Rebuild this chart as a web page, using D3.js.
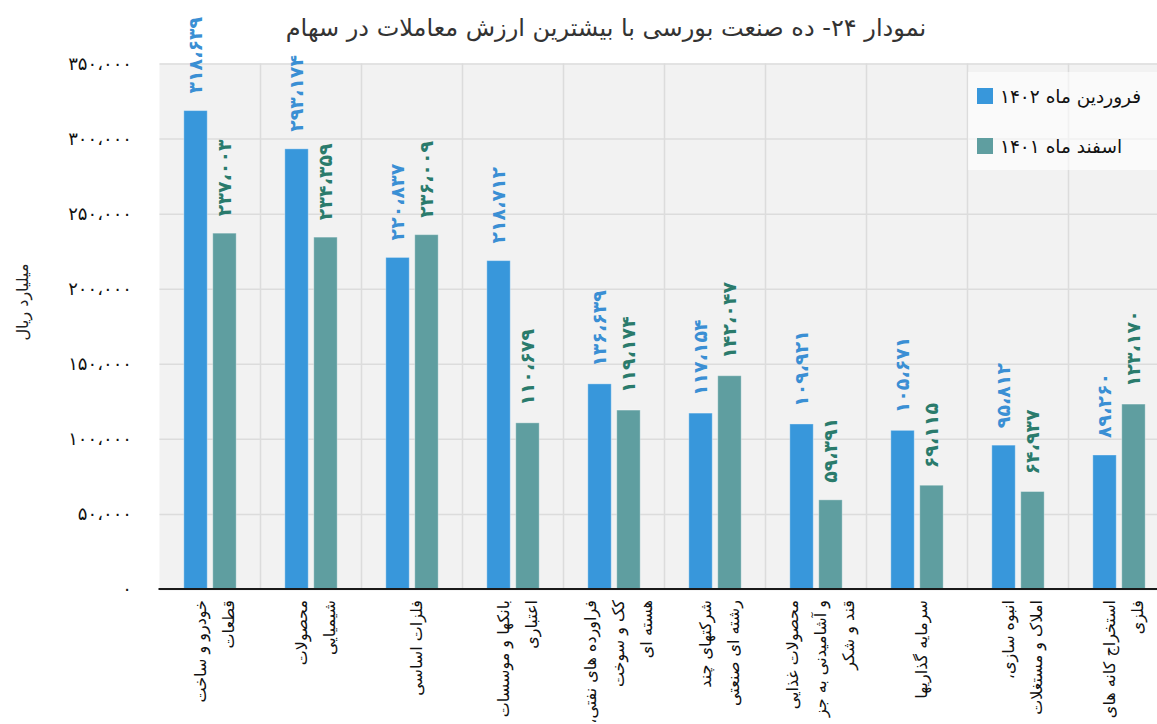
<!DOCTYPE html>
<html>
<head>
<meta charset="utf-8">
<script src="https://cdn.jsdelivr.net/npm/d3@7"></script>
<style>
  body { margin: 0; background: #fff; overflow: hidden; }
  svg { display: block; font-family: "DejaVu Sans", sans-serif; }
</style>
</head>
<body>
<svg id="chart" width="1157" height="724"></svg>
<script>
// data
var chartTitle = "نمودار ۲۴- ده صنعت بورسی با بیشترین ارزش معاملات در سهام";
var yTitle = "میلیارد ریال";
var seriesNames = ["فروردین ماه ۱۴۰۲", "اسفند ماه ۱۴۰۱"];
var categories = [
  ["خودرو و ساخت", "قطعات"],
  ["محصولات", "شیمیایی"],
  ["فلزات اساسی"],
  ["بانکها و موسسات", "اعتباری"],
  ["فراورده های نفتی،", "کک و سوخت", "هسته ای"],
  ["شرکتهای چند", "رشته ای صنعتی"],
  ["محصولات غذایی", "و آشامیدنی به جز", "قند و شکر"],
  ["سرمایه گذاریها"],
  ["انبوه سازی،", "املاک و مستغلات"],
  ["استخراج کانه های", "فلزی"]
];
var farvardin1402 = [318639, 293174, 220837, 218712, 136639, 117154, 109921, 105671, 95812, 89260];
var esfand1401 = [237003, 234359, 236009, 110679, 119174, 142047, 59391, 69115, 64937, 123170];
var yTicks = [0, 50000, 100000, 150000, 200000, 250000, 300000, 350000];

var barColors = ["#3897db", "#5f9ea0"];
var labelColors = ["#3a8fd4", "#2a7b6c"];

var fa = d3.formatLocale({
  decimal: "٫", thousands: "،", grouping: [3], currency: ["", ""],
  numerals: ["۰", "۱", "۲", "۳", "۴", "۵", "۶", "۷", "۸", "۹"]
});
var fmt = fa.format(",d");

var svg = d3.select("#chart"),
    plotLeft = 159.5, plotTop = 63.5, plotBottom = 589, band = 101;

var x = d3.scaleBand()
    .domain(d3.range(categories.length))
    .range([plotLeft, plotLeft + band * categories.length]);

var x1 = d3.scaleBand()
    .domain([0, 1])
    .range([0, x.bandwidth()])
    .paddingInner(0.19)
    .paddingOuter(0.84);

var y = d3.scaleLinear().domain([0, 350000]).range([plotBottom, plotTop]);

// plot background
svg.append("rect")
    .attr("x", plotLeft).attr("y", plotTop)
    .attr("width", band * categories.length).attr("height", plotBottom - plotTop)
    .attr("fill", "#f2f2f2");

// horizontal grid
svg.append("g")
    .attr("transform", "translate(" + plotLeft + ",0)")
    .call(d3.axisLeft(y).tickValues(yTicks).tickSize(-band * categories.length).tickFormat(""))
    .call(function(g) { g.select(".domain").remove(); })
    .selectAll("line").attr("stroke", "#dcdcdc").attr("stroke-width", 1.5);

// vertical grid between categories
svg.append("g").selectAll("line")
    .data(d3.range(1, categories.length))
    .enter().append("line")
      .attr("x1", function(i) { return x(i); })
      .attr("x2", function(i) { return x(i); })
      .attr("y1", plotTop).attr("y2", plotBottom)
      .attr("stroke", "#dcdcdc").attr("stroke-width", 1.5);

// y tick labels
var yAxis = svg.append("g")
    .attr("transform", "translate(132,0)")
    .call(d3.axisLeft(y).tickValues(yTicks).tickSize(0).tickPadding(0).tickFormat(fmt));
yAxis.select(".domain").remove();
yAxis.selectAll("text")
    .attr("font-family", "DejaVu Sans, sans-serif")
    .attr("font-size", 18).attr("fill", "#111");

// y title
svg.append("text")
    .attr("transform", "translate(28,302) rotate(-90)")
    .attr("text-anchor", "middle")
    .attr("font-size", 16).attr("fill", "#222")
    .text(yTitle);

// bars
var rows = categories.map(function(c, i) { return [farvardin1402[i], esfand1401[i]]; });

var groups = svg.append("g").selectAll("g")
    .data(rows)
    .enter().append("g")
      .attr("transform", function(d, i) { return "translate(" + x(i) + ",0)"; });

groups.selectAll("rect")
    .data(function(d) { return d; })
    .enter().append("rect")
      .attr("x", function(d, j) { return x1(j); })
      .attr("y", function(d) { return y(d); })
      .attr("width", x1.bandwidth())
      .attr("height", function(d) { return plotBottom - y(d); })
      .attr("fill", function(d, j) { return barColors[j]; })
      .attr("stroke", "#ffffff").attr("stroke-opacity", 0.35).attr("stroke-width", 1);

groups.selectAll("text.val")
    .data(function(d) { return d; })
    .enter().append("text")
      .attr("class", "val")
      .attr("transform", function(d, j) {
        return "translate(" + (x1(j) + x1.bandwidth() / 2) + "," + (y(d) - 17) + ") rotate(-90)";
      })
      .attr("dy", "0.36em")
      .attr("font-size", 19).attr("font-weight", "bold")
      .attr("fill", function(d, j) { return labelColors[j]; })
      .text(function(d) { return fmt(d); });

// x axis line
svg.append("line")
    .attr("x1", plotLeft - 1).attr("x2", 1157)
    .attr("y1", plotBottom).attr("y2", plotBottom)
    .attr("stroke", "#1a1a1a").attr("stroke-width", 2);

// category labels, rotated, lines stacked to the right
var lineGap = 28;
categories.forEach(function(lines, i) {
  var cx = x(i) + x.bandwidth() / 2 + 4 - (lines.length - 1) * lineGap / 2;
  lines.forEach(function(s, k) {
    svg.append("text")
        .attr("transform", "translate(" + (cx + k * lineGap) + ",600) rotate(-90)")
        .attr("direction", "rtl")
        .attr("text-anchor", "start")
        .attr("dy", "0.35em")
        .attr("font-size", 16).attr("fill", "#111")
        .text(s);
  });
});

// legend
var legend = svg.append("g");
legend.append("rect")
    .attr("x", 968).attr("y", 72).attr("width", 200).attr("height", 98)
    .attr("fill", "#ffffff").attr("fill-opacity", 0.6);
seriesNames.forEach(function(name, j) {
  legend.append("rect")
      .attr("x", 977).attr("y", 88 + j * 50).attr("width", 16).attr("height", 16)
      .attr("fill", barColors[j]);
  legend.append("text")
      .attr("x", 1000).attr("y", 103 + j * 50)
      .attr("font-size", 18.5).attr("fill", "#111")
      .text(name);
});

// title
svg.append("text")
    .attr("x", 606).attr("y", 36)
    .attr("text-anchor", "middle")
    .attr("font-size", 24).attr("fill", "#333")
    .text(chartTitle);
</script>
</body>
</html>
